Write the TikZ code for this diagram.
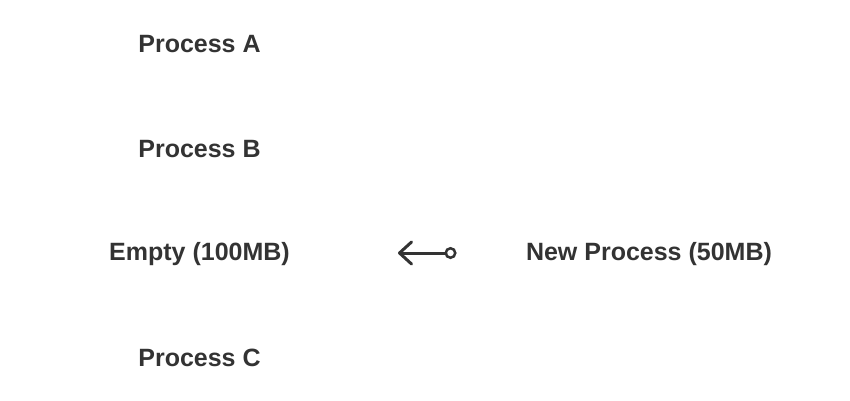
\documentclass[tikz,border=0pt]{standalone}
\usepackage{fontspec}
\setmainfont{Liberation Sans}
\usetikzlibrary{arrows.meta}
\definecolor{ink}{HTML}{333333}
\tikzset{label/.style={text=ink,font=\fontsize{25}{30}\selectfont\bfseries}}
\begin{document}
\begin{tikzpicture}[x=1pt,y=-1pt]
\useasboundingbox (0,0) rectangle (850,400);

\node[label] (procA) at (199.5,44) {Process A};
\node[label] (procB) at (199.5,149) {Process B};
\node[label] (empty) at (199.5,254) {Empty (100MB)};
\node[label] (procC) at (199.5,358) {Process C};
\node[label] (newproc) at (649,254) {New Process (50MB)};

\coordinate (tail) at (456.5,253);
\coordinate (head) at (398,253);
\draw[ink,line width=3pt,line cap=round,
  {Straight Barb[length=12pt,width=22pt,line cap=round,round]}-{Circle[open,length=12pt,width=12pt,line width=2.5pt]}]
  (head) -- (tail);
\end{tikzpicture}
\end{document}
